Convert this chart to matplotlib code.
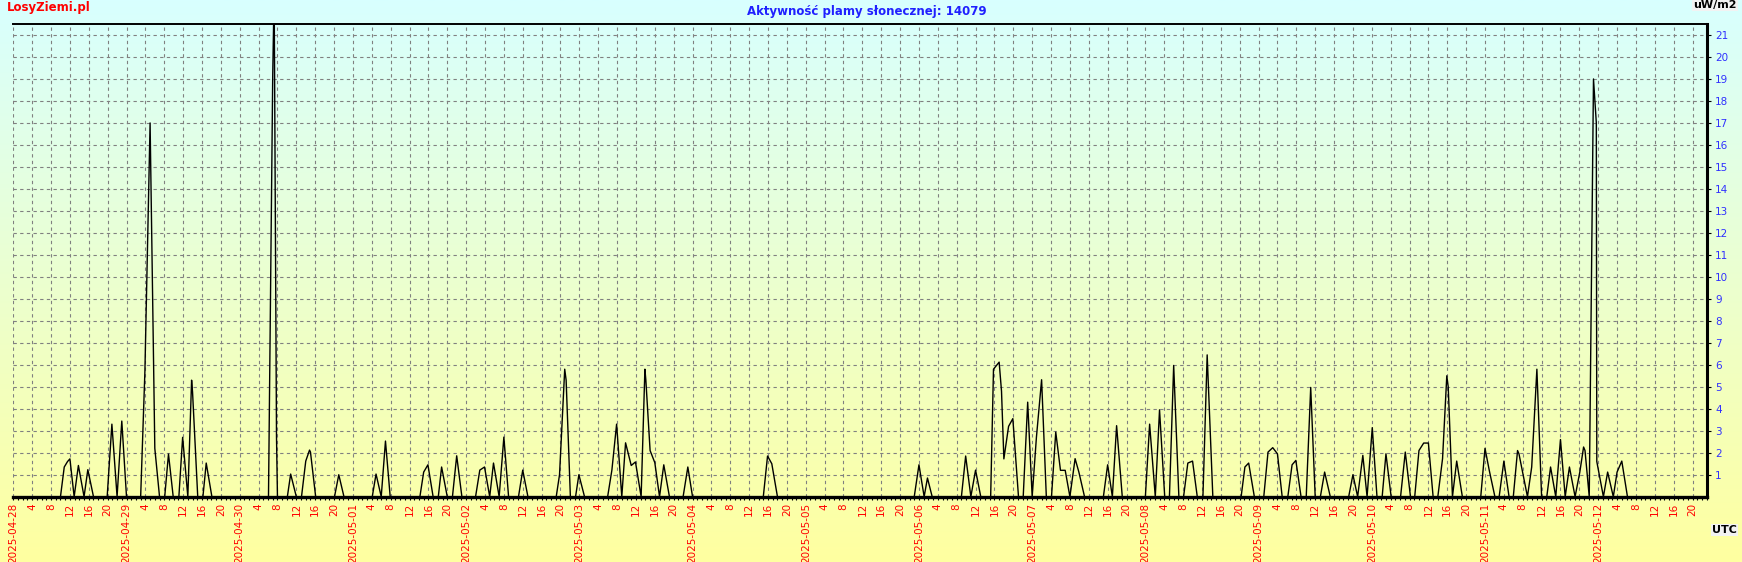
import matplotlib
matplotlib.use('Agg')
import matplotlib.pyplot as plt
import numpy as np
from datetime import datetime, timedelta
from matplotlib.ticker import MultipleLocator, FixedLocator

TITLE = 'Aktywność plamy słonecznej: 14079'
START = datetime(2025, 4, 28)
X_END = 359            # hours shown after START

# hours after START and flux (uW/m2) at the vertices of the trace
hours = [0,
         10.0, 10.8, 11.5, 12.0, 12.9, 13.8, 15.0, 15.8, 17.0,
         19.9, 20.9, 22.0, 23.0, 24.0,
         27.0, 27.9, 29.0, 30.0, 31.0,
         32.1, 32.9, 33.9, 35.1, 35.9, 37.0, 37.8, 38.0, 39.1,
         40.2, 40.9, 42.1,
         54.1, 55.0, 55.3, 55.8, 56.0,
         58.1, 58.8, 60.0, 61.1, 62.0, 62.8, 63.0, 64.1,
         68.1, 69.0, 70.1, 76.1, 76.9, 78.0, 78.9, 79.9,
         86.2, 87.0, 87.9, 89.0, 90.1, 90.8, 92.0, 93.1, 94.0, 95.1,
         98.0, 98.9, 99.9, 101.0, 101.8, 103.0, 104.0, 105.0,
         107.1, 108.0, 109.1,
         115.1, 115.8, 116.9, 117.2, 118.1, 119.2, 119.9, 121.1,
         126.0, 126.9, 127.9, 129.0, 129.8, 131.0, 131.9, 133.1,
         133.9, 134.1, 135.0, 136.0, 137.0, 137.9, 139.1,
         142.0, 143.0, 144.0,
         159.0, 159.9, 160.8, 162.0,
         191.0, 192.0, 193.1, 193.8, 194.8,
         201.0, 201.9, 203.0, 204.0, 205.1,
         207.2, 207.8, 209.0, 209.5, 210.0, 211.0, 211.9, 213.1,
         214.1, 215.05, 216.0, 216.9, 218.0, 219.0,
         220.1, 221.0, 222.0, 223.0, 224.0, 225.1, 225.9, 227.1,
         231.1, 232.0, 233.0, 233.9, 235.1,
         240.0, 240.9, 242.1, 243.0, 244.1,
         245.1, 246.0, 247.1, 248.1, 249.0, 250.0, 251.0,
         252.2, 253.1, 254.3,
         260.3, 261.1, 261.9, 263.1,
         265.1, 266.0, 267.0, 268.0, 269.0,
         270.2, 271.1, 271.9, 273.0, 274.1, 275.05, 276.0,
         277.1, 278.0, 279.2,
         283.1, 284.0, 285.0, 286.1, 287.0, 288.1, 289.1,
         290.2, 291.0, 292.1, 294.1, 295.1, 296.2,
         297.1, 298.0, 299.0, 300.0, 301.0,
         302.0, 303.0, 303.9, 304.2, 305.1, 306.0, 307.2,
         311.1, 312.0, 312.9, 314.1, 315.0, 316.0, 317.1,
         318.0, 318.9, 319.2, 321.0, 321.9, 323.0, 324.0,
         325.1, 325.9, 327.0, 328.0, 329.0, 329.9, 331.1,
         332.1, 332.9, 333.2, 334.1, 335.0, 335.6, 335.7, 337.1,
         338.0, 339.2, 340.0, 341.0, 342.2,
         X_END]
flux = [0,
        0, 1.35, 1.6, 1.72, 0, 1.42, 0, 1.23, 0,
        0, 3.3, 0, 3.44, 0,
        0, 5.7, 17.0, 2.2, 0,
        0, 1.94, 0, 0, 2.7, 0, 5.3, 4.76, 0,
        0, 1.53, 0,
        0, 19.2, 23.0, 2.7, 0,
        0, 1.03, 0, 0, 1.62, 2.12, 2.03, 0,
        0, 1.0, 0, 0, 1.03, 0, 2.53, 0,
        0, 1.12, 1.45, 0, 0, 1.35, 0, 0, 1.86, 0,
        0, 1.21, 1.35, 0, 1.53, 0, 2.71, 0,
        0, 1.21, 0,
        0, 1.0, 5.8, 5.3, 0, 0, 1.0, 0,
        0, 1.21, 3.3, 0, 2.45, 1.42, 1.58, 0,
        5.8, 5.3, 2.1, 1.55, 0, 1.45, 0,
        0, 1.35, 0,
        0, 1.85, 1.5, 0,
        0, 1.45, 0, 0.85, 0,
        0, 1.85, 0, 1.21, 0,
        0, 5.8, 6.12, 4.8, 1.72, 3.2, 3.55, 0,
        0, 4.3, 0, 2.7, 5.32, 0,
        0, 2.94, 1.2, 1.2, 0, 1.73, 1.12, 0,
        0, 1.45, 0, 3.23, 0,
        0, 3.3, 0, 3.95, 0,
        0, 5.97, 0, 0, 1.53, 1.62, 0,
        0, 6.45, 0,
        0, 1.35, 1.53, 0,
        0, 2.03, 2.23, 1.95, 0,
        0, 1.45, 1.65, 0, 0, 4.97, 0,
        0, 1.12, 0,
        0, 1.0, 0, 1.88, 0, 3.14, 0,
        0, 1.95, 0, 0, 2.03, 0,
        0, 2.1, 2.44, 2.44, 0,
        0, 1.73, 5.5, 5.0, 0, 1.62, 0,
        0, 2.2, 1.2, 0, 0, 1.62, 0,
        0, 2.1, 1.95, 0, 1.35, 5.8, 0,
        0, 1.35, 0, 2.6, 0, 1.35, 0,
        1.12, 2.26, 2.1, 0, 19.0, 17.0, 1.6, 0,
        1.12, 0, 1.12, 1.62, 0,
        0]

W, H = 1742, 562
fig = plt.figure(figsize=(W / 100, H / 100), dpi=100)

# background gradient, light cyan at the top to pale yellow at the bottom
bg = fig.add_axes([0, 0, 1, 1], zorder=-5)
top = np.array([216, 255, 255]) / 255
bot = np.array([255, 255, 160]) / 255
frac = np.linspace(0, 1, 256)[:, None]
grad = (top * (1 - frac) + bot * frac)[:, None, :]
bg.imshow(grad, aspect='auto', extent=[0, 1, 0, 1])
bg.axis('off')

ax = fig.add_axes([13.3 / W, 65.3 / H, (1706.7 - 13.3) / W, (496.7 - 24) / H])
ax.set_facecolor('none')
ax.plot(hours, flux, color='black', lw=1.0, zorder=3, clip_on=True)

ax.set_xlim(0, X_END)
ax.set_ylim(0, 21.5)

# x ticks every 4 h, minor every hour
xt = list(range(0, X_END + 1, 4))
xl = []
for h in xt:
    d = START + timedelta(hours=h)
    xl.append(d.strftime('%Y-%m-%d') if d.hour == 0 else str(d.hour))
ax.xaxis.set_major_locator(FixedLocator(xt))
ax.set_xticklabels(xl, rotation=90, color='#FF0000', fontsize=7.5, va='top')
ax.xaxis.set_minor_locator(MultipleLocator(1))
ax.tick_params(axis='x', which='both', length=2.5, width=0.8, pad=2, direction='out')

# y ticks on the right
ax.yaxis.tick_right()
ax.set_yticks(range(1, 22))
ax.set_yticklabels([str(i) for i in range(1, 22)], color='#3030FF', fontsize=7.5)
ax.tick_params(axis='y', which='major', length=3, width=0.8, pad=3)

ax.grid(True, which='major', color='#808080', lw=0.8, ls=(0, (3, 3)))

ax.spines['left'].set_visible(False)
ax.spines['bottom'].set_linewidth(2.4)
ax.spines['right'].set_linewidth(2.2)
ax.spines['top'].set_linewidth(1.4)
for s in ax.spines.values():
    s.set_zorder(4)

fig.text(7 / W, 1 - 8 / H, 'LosyZiemi.pl', color='#FF0000', fontsize=8.5,
         fontweight='bold', ha='left', va='center')
fig.text(867 / W, 1 - 11 / H, TITLE, color='#2020FF', fontsize=8.5,
         fontweight='bold', ha='center', va='center')
fig.text(1737 / W, 1 - 5 / H, 'uW/m2', color='black', fontsize=8,
         fontweight='bold', ha='right', va='center',
         bbox=dict(facecolor='#F2F2F2', edgecolor='none', pad=0.8))
fig.text(1737 / W, 1 - 530 / H, 'UTC', color='black', fontsize=8,
         fontweight='bold', ha='right', va='center',
         bbox=dict(facecolor='#F2F2F2', edgecolor='none', pad=0.8))

fig.savefig('out.png', dpi=100)
